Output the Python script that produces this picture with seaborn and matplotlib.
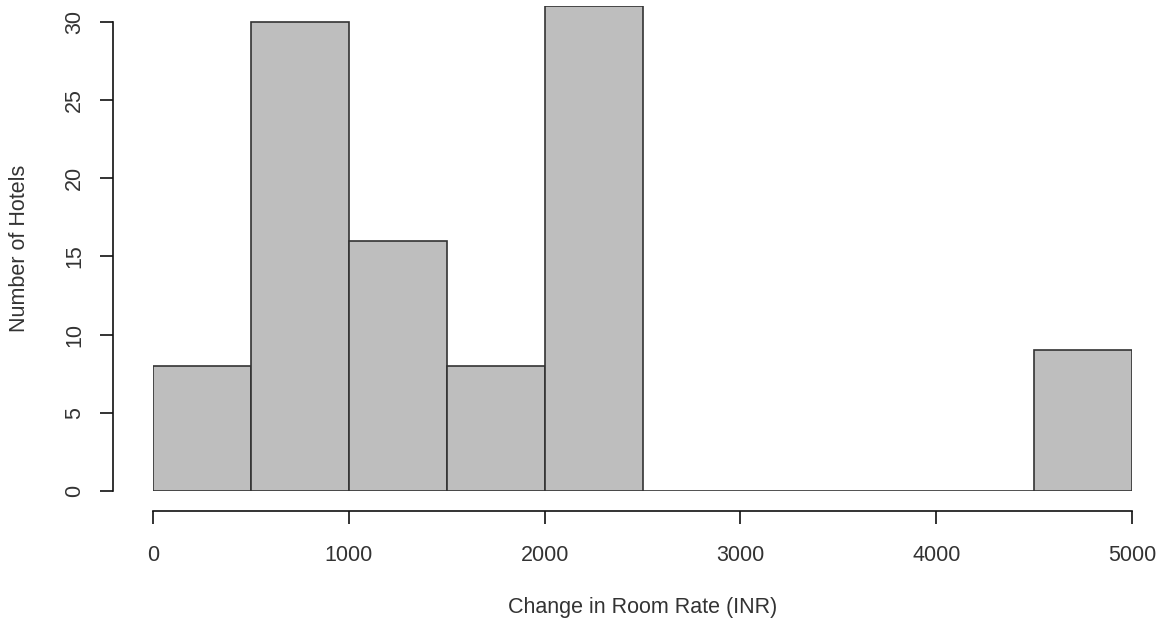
import numpy as np
import seaborn as sns
import matplotlib.pyplot as plt

# histogram counts, bin width 500
bin_edges = [0, 500, 1000, 1500, 2000, 2500, 3000, 3500, 4000, 4500, 5000]
hotel_counts = [8, 30, 16, 8, 31, 0, 0, 0, 0, 9]
x_ticks = [0, 1000, 2000, 3000, 4000, 5000]
y_ticks = [0, 5, 10, 15, 20, 25, 30]

sns.set_style("white")
plt.rcParams['font.family'] = ['Liberation Sans', 'DejaVu Sans']

DPI = 100
fig = plt.figure(figsize=(11.66, 6.26), dpi=DPI)
ax = fig.add_axes([153 / 1166, 135 / 626, 979 / 1166, 485 / 626])

centers = [(a + b) / 2 for a, b in zip(bin_edges[:-1], bin_edges[1:])]
sns.histplot(x=centers, weights=hotel_counts, bins=bin_edges, ax=ax,
             color="#bebebe", alpha=1, edgecolor="#333333", linewidth=1.2)

ax.set_xlim(0, 5000)
ax.set_ylim(0, 31)
ax.set_xticks(x_ticks)
ax.set_yticks(y_ticks)

pt = 72 / DPI
for s in ["top", "right"]:
    ax.spines[s].set_visible(False)
ax.spines["left"].set_position(("outward", 40 * pt))
ax.spines["bottom"].set_position(("outward", 20 * pt))
ax.spines["left"].set_bounds(0, 30)
ax.spines["bottom"].set_bounds(0, 5000)
for s in ["left", "bottom"]:
    ax.spines[s].set_color("#111111")
    ax.spines[s].set_linewidth(1.2)

ax.tick_params(axis="both", length=13 * pt, width=1.2, color="#111111",
               labelsize=15.5, labelcolor="#333333", direction="out")
ax.tick_params(axis="x", bottom=True, pad=21 * pt)
ax.tick_params(axis="y", left=True, pad=15 * pt, labelrotation=90)
for lab in ax.get_yticklabels():
    lab.set_va("center")

ax.set_xlabel("Change in Room Rate (INR)", fontsize=15.5, color="#333333")
ax.set_ylabel("Number of Hotels", fontsize=15.5, color="#333333")
ax.xaxis.set_label_coords(0.5, -106 / 485)
ax.yaxis.set_label_coords(-123 / 979, 0.5)

fig.savefig("out.png", dpi=DPI)
